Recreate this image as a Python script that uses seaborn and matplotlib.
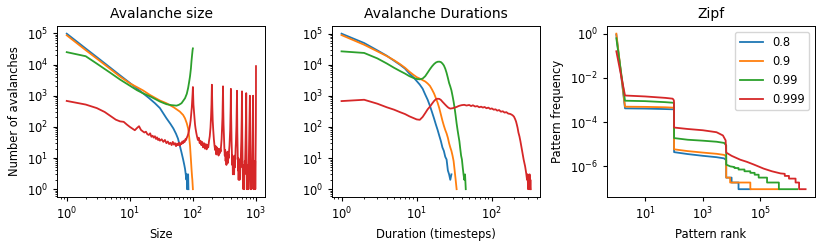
import pandas as pd
import matplotlib
matplotlib.use("Agg")
import matplotlib.pyplot as plt
import seaborn as sns

labels = ["0.8", "0.9", "0.99", "0.999"]
colors = ["#1f77b4", "#ff7f0e", "#2ca02c", "#d62728"]

# Avalanche size distributions
size_x_08 = [1, 2, 3, 5, 7, 10, 15, 20, 25, 30, 38, 44, 49, 54, 58, 62, 66, 70, 73, 75, 77, 79, 80, 81, 82, 83, 84, 85]
size_y_08 = [98000, 32700, 17300, 7700, 4500, 2580, 1350, 850, 575, 400, 190, 125, 89, 60, 42, 25, 15, 9, 6, 4.5, 3, 2, 3, 1, 2, 1, 3, 1]
size_x_09 = [1, 2, 3, 5, 7, 10, 16, 21, 25, 30, 38, 50, 62, 70, 75, 80, 84, 87, 90, 93, 95, 97, 98, 100]
size_y_09 = [87000, 29000, 15500, 7000, 4100, 2500, 1500, 1050, 860, 700, 575, 420, 310, 240, 187, 130, 89, 50, 25, 9, 4.5, 2.5, 2, 1]
size_x_099 = [1, 2, 3, 5, 7, 10, 13, 16, 21, 30, 38, 45, 55, 60, 66, 70, 75, 80, 84, 87, 90, 93, 95, 97, 99, 100]
size_y_099 = [25000, 18500, 10700, 5300, 3300, 2100, 1500, 1210, 950, 650, 535, 500, 480, 510, 575, 680, 830, 1150, 1770, 2700, 4200, 7500, 13000, 20000, 30000, 33000]
size_x_0999 = [1, 2, 3, 4, 5, 6, 7, 8, 9, 10, 11, 12, 13, 14, 15, 16, 17, 18, 19, 20,
               21, 22, 23, 24, 25, 26, 27, 28, 29, 30, 32, 34, 36, 38, 40, 42, 44, 46, 48, 50,
               52, 54, 56, 58, 60, 62, 64, 66, 68, 70, 72, 74, 76, 78, 80, 82, 84, 86, 88, 90,
               92, 94, 96, 98, 99, 100, 101, 102, 104, 106, 108, 110, 113, 116, 120, 124, 128, 132, 136, 140,
               145, 150, 155, 160, 165, 170, 175, 180, 185, 190, 194, 197, 199, 200, 201, 203, 206, 210, 215, 220,
               225, 230, 235, 240, 245, 250, 255, 260, 265, 270, 275, 280, 285, 290, 294, 297, 299, 300, 301, 303,
               306, 310, 315, 320, 325, 330, 335, 340, 345, 350, 355, 360, 365, 370, 375, 380, 385, 390, 394, 397,
               399, 400, 401, 403, 406, 410, 415, 420, 425, 430, 435, 440, 445, 450, 455, 460, 465, 470, 475, 480,
               485, 490, 494, 497, 499, 500, 501, 503, 506, 510, 515, 520, 525, 530, 535, 540, 545, 550, 555, 560,
               565, 570, 575, 580, 585, 590, 594, 597, 599, 600, 601, 603, 606, 610, 615, 620, 625, 630, 635, 640,
               645, 650, 655, 660, 665, 670, 675, 680, 685, 690, 694, 697, 699, 700, 701, 703, 706, 710, 715, 720,
               725, 730, 735, 740, 745, 750, 755, 760, 765, 770, 775, 780, 785, 790, 794, 797, 800, 801, 803, 806,
               810, 815, 820, 825, 830, 835, 840, 845, 850, 855, 860, 865, 870, 875, 880, 885, 890, 895, 898, 900,
               901, 903, 906, 910, 915, 920, 925, 930, 935, 940, 945, 950, 955, 960, 965, 970, 975, 980, 985, 990,
               995, 998, 999, 1000]
size_y_0999 = [680, 520, 400, 300, 220, 170, 150, 145, 118, 100, 88, 78, 92, 105, 80, 72, 66, 70, 58, 55,
               62, 48, 52, 45, 50, 41, 46, 38, 42, 36, 40, 33, 38, 30, 34, 28, 31, 26, 33, 27,
               30, 24, 29, 26, 31, 25, 30, 28, 34, 30, 36, 33, 40, 38, 45, 50, 58, 70, 90, 115,
               160, 250, 420, 800, 1200, 1900, 900, 520, 300, 190, 120, 90, 65, 50, 38, 45, 30, 36, 26, 33,
               22, 30, 20, 28, 19, 26, 22, 35, 50, 95, 220, 520, 1300, 2250, 1100, 450, 160, 80, 40, 25,
               18, 24, 13, 22, 15, 20, 12, 18, 14, 20, 16, 25, 40, 90, 200, 500, 1200, 2000, 900, 350,
               120, 50, 22, 12, 18, 8, 15, 6, 14, 9, 16, 7, 13, 10, 18, 25, 45, 80, 180, 450,
               1000, 1660, 800, 280, 90, 35, 15, 6, 12, 3, 9, 4, 11, 3, 8, 5, 12, 9, 20, 30,
               55, 110, 260, 600, 1000, 1440, 700, 250, 70, 25, 9, 4, 10, 2, 7, 3, 8, 2, 6, 4,
               9, 5, 12, 20, 35, 80, 200, 500, 900, 1380, 650, 200, 50, 15, 5, 2, 6, 1, 5, 2,
               4, 1, 6, 3, 8, 5, 12, 20, 40, 80, 200, 450, 850, 1210, 550, 180, 40, 12, 3, 1,
               4, 1, 3, 2, 5, 1, 4, 6, 3, 10, 20, 40, 70, 150, 300, 600, 1000, 450, 120, 30,
               6, 2, 1, 4, 1, 3, 1, 5, 2, 6, 3, 10, 18, 30, 60, 110, 250, 550, 800, 1000,
               400, 100, 20, 4, 1, 3, 1, 2, 1, 4, 2, 5, 3, 6, 2, 8, 1, 5, 12, 30,
               100, 400, 1000, 8900]

# Avalanche duration distributions
dur_x_08 = list(range(1, 30))
dur_y_08 = [100000, 50000, 29000, 19500, 13500, 10000, 7500, 5200, 4000, 3000, 2300, 1700, 1100, 750, 480,
            300, 190, 120, 80, 52, 35, 22, 17, 11, 9, 4, 3, 2, 3]
dur_x_09 = list(range(1, 35))
dur_y_09 = [90000, 44000, 27000, 19000, 14000, 10500, 8000, 6000, 4800, 4000, 3600, 3200, 2900, 2500, 2100,
            1600, 1200, 850, 600, 400, 250, 160, 110, 80, 62, 45, 30, 22, 17, 12, 8, 4, 2, 1]
dur_x_099 = list(range(1, 46))
dur_y_099 = [27000, 24000, 16000, 11000, 8000, 6300, 5200, 4300, 3800, 3500, 3400, 3600, 4300, 5600, 7200,
             8900, 10500, 11800, 12500, 12600, 12200, 11000, 9500, 7500, 5500, 3800, 2600, 2000, 1500, 1000,
             650, 400, 230, 130, 80, 52, 35, 20, 12, 9, 5, 3, 2, 3, 1]
dur_x_0999 = [1, 2, 3, 4, 5, 6, 7, 8, 9, 10, 11, 12, 13, 14, 15, 16, 17, 18, 19, 20,
              21, 22, 23, 24, 25, 26, 27, 28, 30, 32, 34, 36, 38, 40, 43, 46, 50, 53, 56, 60,
              64, 68, 72, 76, 80, 85, 90, 95, 100, 106, 112, 118, 125, 132, 140, 148, 156, 165, 175, 183,
              190, 197, 204, 210, 215, 220, 226, 233, 240, 246, 251, 258, 265, 271, 277, 283, 288, 294, 299, 304,
              309, 314, 318, 322, 326, 330]
dur_y_0999 = [680, 750, 560, 430, 360, 300, 260, 220, 195, 175, 170, 210, 280, 370, 450, 560, 680, 780, 810, 800,
              740, 650, 580, 520, 470, 430, 405, 390, 400, 420, 440, 470, 490, 505, 515, 490, 510, 470, 500, 455,
              470, 430, 450, 420, 440, 400, 420, 380, 395, 360, 370, 335, 350, 310, 320, 290, 300, 270, 263, 250,
              235, 215, 180, 150, 120, 95, 66, 50, 35, 25, 19, 13, 9, 7, 5.5, 4, 3, 2, 3, 1,
              2, 1, 3, 1, 2, 1]

# Zipf (pattern rank vs frequency)
zipf_x_08 = [1, 2, 10, 50, 98, 100, 101, 300, 1000, 3000, 5500, 6500, 6500, 10000, 10000, 17400, 17400, 44700]
zipf_y_08 = [0.9, 4.2e-4, 4.1e-4, 3.9e-4, 3.8e-4, 3.7e-4, 4.4e-6, 3.6e-6, 3.0e-6, 2.6e-6, 2.3e-6, 1.9e-6,
             3.1e-7, 3.1e-7, 1.86e-7, 1.86e-7, 9.3e-8, 9.3e-8]
zipf_x_09 = [1, 2, 10, 50, 98, 100, 101, 300, 1000, 3000, 5500, 6500, 6500, 8900, 8900, 44700, 44700, 437000]
zipf_y_09 = [1.0, 5.0e-4, 4.9e-4, 4.7e-4, 4.5e-4, 4.4e-4, 5.9e-6, 4.9e-6, 4.2e-6, 3.7e-6, 3.3e-6, 2.8e-6,
             3.1e-7, 3.1e-7, 1.86e-7, 1.86e-7, 9.3e-8, 9.3e-8]
zipf_x_099 = [1, 2, 10, 50, 98, 100, 101, 300, 1000, 3000, 5500, 6500, 6500, 9000, 12600, 12600, 17400, 17400,
              28000, 28000, 44700, 44700, 63000, 63000, 87000, 87000, 170000, 170000, 437000, 437000, 1900000]
zipf_y_099 = [0.62, 9.3e-4, 8.9e-4, 8.0e-4, 7.5e-4, 7.0e-4, 1.9e-5, 1.6e-5, 1.45e-5, 1.3e-5, 1.15e-5, 9.0e-6,
              1.2e-6, 1.0e-6, 9.3e-7, 8.4e-7, 8.4e-7, 7.2e-7, 7.2e-7, 6.0e-7, 6.0e-7, 5.1e-7, 5.1e-7, 4.2e-7,
              4.2e-7, 3.1e-7, 3.1e-7, 1.86e-7, 1.86e-7, 9.3e-8, 9.3e-8]
zipf_x_0999 = [1, 2, 10, 50, 90, 98, 100, 101, 300, 1000, 3000, 5000, 6200, 6500, 10000, 20000, 34000, 60000,
               130000, 250000, 500000, 700000, 700000, 980000, 980000, 1660000, 1660000, 2200000, 2200000, 3700000]
zipf_y_0999 = [0.16, 1.6e-3, 1.45e-3, 1.25e-3, 1.15e-3, 1.0e-3, 9.0e-4, 5.7e-5, 4.9e-5, 4.3e-5, 3.5e-5, 2.5e-5,
               1.5e-5, 4.2e-6, 3.0e-6, 2.0e-6, 1.6e-6, 1.2e-6, 7.9e-7, 6.0e-7, 4.8e-7, 4.6e-7, 3.7e-7, 3.7e-7,
               2.8e-7, 2.8e-7, 1.86e-7, 1.86e-7, 9.3e-8, 9.3e-8]


def to_frame(xs, ys):
    parts = []
    for lab, x, y in zip(labels, xs, ys):
        parts.append(pd.DataFrame({"x": x, "y": y, "beta": lab}))
    return pd.concat(parts, ignore_index=True)


size_df = to_frame([size_x_08, size_x_09, size_x_099, size_x_0999],
                   [size_y_08, size_y_09, size_y_099, size_y_0999])
dur_df = to_frame([dur_x_08, dur_x_09, dur_x_099, dur_x_0999],
                  [dur_y_08, dur_y_09, dur_y_099, dur_y_0999])
zipf_df = to_frame([zipf_x_08, zipf_x_09, zipf_x_099, zipf_x_0999],
                   [zipf_y_08, zipf_y_09, zipf_y_099, zipf_y_0999])

# reference looks like default matplotlib sizes scaled down by ~0.83
plt.rcParams["font.size"] = 8.3
plt.rcParams["axes.titlesize"] = 10
plt.rcParams["axes.linewidth"] = 0.7
plt.rcParams["xtick.major.size"] = 3
plt.rcParams["ytick.major.size"] = 3
plt.rcParams["xtick.minor.size"] = 1.7
plt.rcParams["ytick.minor.size"] = 1.7

fig, axes = plt.subplots(1, 3, figsize=(8.3, 2.49), dpi=100)
fig.subplots_adjust(left=0.069, right=0.982, top=0.896, bottom=0.209, wspace=0.32)

panels = [
    (size_df, "Avalanche size", "Size", "Number of avalanches"),
    (dur_df, "Avalanche Durations", "Duration (timesteps)", ""),
    (zipf_df, "Zipf", "Pattern rank", "Pattern frequency"),
]
for i, (ax, (df, title, xlab, ylab)) in enumerate(zip(axes, panels)):
    sns.lineplot(data=df, x="x", y="y", hue="beta", hue_order=labels, palette=colors,
                 estimator=None, sort=False, linewidth=1.3, ax=ax, legend=(i == 2))
    ax.set_xscale("log")
    ax.set_yscale("log")
    ax.set_title(title)
    ax.set_xlabel(xlab)
    ax.set_ylabel(ylab)

axes[2].legend(loc="upper right", fontsize=8.3)

fig.savefig("out.png", dpi=100)
